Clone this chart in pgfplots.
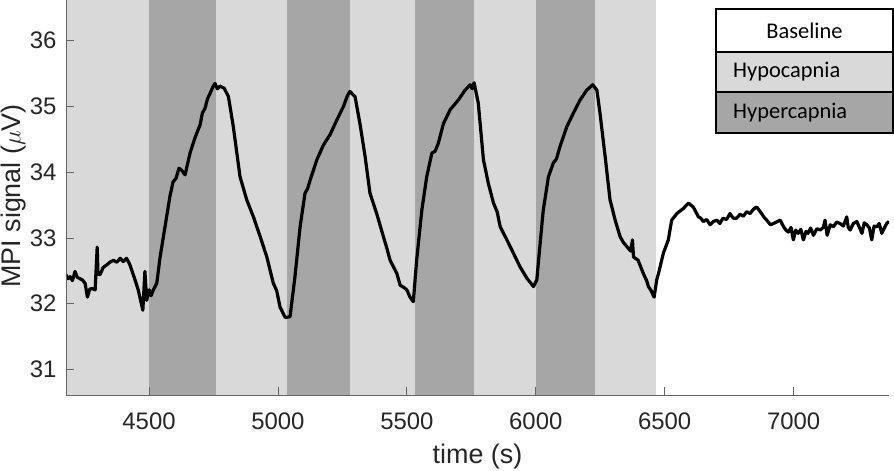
\documentclass[border=0pt]{standalone}
\usepackage{pgfplots}
\pgfplotsset{compat=1.18}
\usepackage{fontspec}
\setmainfont{Liberation Sans}
\newfontfamily\calibri{Carlito}

\definecolor{hypo}{HTML}{D9D9D9}
\definecolor{hyper}{HTML}{A6A6A6}
\definecolor{axgray}{HTML}{646464}

\begin{document}
\begin{tikzpicture}
\path[use as bounding box] (-66bp,-76bp) rectangle (828bp,395bp);
\begin{axis}[
    scale only axis,
    width=823bp, height=395bp,
    xmin=4178, xmax=7370,
    ymin=30.61, ymax=36.62,
    axis x line*=bottom, axis y line*=left,
    axis line style={axgray, line width=0.9bp},
    xtick={4500,5000,...,7000},
    ytick={31,32,...,36},
    tick align=inside,
    major tick length=8bp,
    tick style={axgray, line width=0.8bp},
    scaled x ticks=false,
    /pgf/number format/assume math mode=true,
    /pgf/number format/set thousands separator={},
    tick label style={font=\fontsize{24}{28}\selectfont, text=black!85},
    xticklabel style={yshift=-14bp},
    yticklabel style={xshift=-6bp},
    xlabel={time (s)},
    ylabel={MPI signal ($\mu$V)},
    label style={font=\fontsize{27}{31}\selectfont, text=black!85},
    xlabel style={at={(axis description cs:0.5,-0.1562)}, anchor=center},
    ylabel style={at={(axis description cs:-0.0638,0.504)}, anchor=center, inner sep=0pt},
    axis on top,
    clip=true,
]
% conditions
\addplot[fill=hypo, draw=none] coordinates {(4178,30.5) (6465,30.5) (6465,36.7) (4178,36.7)} -- cycle;
\addplot[fill=hyper, draw=none] coordinates {(4500,30.5) (4760,30.5) (4760,36.7) (4500,36.7)} -- cycle;
\addplot[fill=hyper, draw=none] coordinates {(5035,30.5) (5280,30.5) (5280,36.7) (5035,36.7)} -- cycle;
\addplot[fill=hyper, draw=none] coordinates {(5530,30.5) (5760,30.5) (5760,36.7) (5530,36.7)} -- cycle;
\addplot[fill=hyper, draw=none] coordinates {(6000,30.5) (6230,30.5) (6230,36.7) (6000,36.7)} -- cycle;
% MPI signal
\addplot[black, line width=3.2bp, line join=round] coordinates {
(4178,32.44)(4186,32.38)(4194,32.41)(4203,32.35)(4213,32.49)(4222,32.40)(4232,32.38)
(4242,32.36)(4252,32.31)(4261,32.10)(4270,32.22)
(4278,32.23)(4291,32.21)(4299,32.86)(4302,32.45)(4310,32.44)(4322,32.55)(4336,32.59)
(4348,32.63)(4362,32.66)(4375,32.63)(4388,32.69)(4400,32.64)(4413,32.69)(4426,32.59)(4446,32.36)(4458,32.21)
(4476,31.90)(4484,32.49)(4491,32.05)(4501,32.21)(4508,32.12)(4517,32.21)(4530,32.31)
(4543,32.71)(4562,33.17)(4581,33.63)(4593,33.85)(4605,33.91)(4616,34.06)(4627,34.03)(4640,33.96)
(4659,34.29)(4678,34.52)(4698,34.72)(4707,34.90)(4717,34.97)(4727,35.12)(4737,35.20)(4748,35.30)(4756,35.35)
(4765,35.27)(4775,35.31)(4791,35.28)(4808,35.15)(4827,34.69)(4853,33.93)(4879,33.58)
(4905,33.32)(4931,33.02)(4957,32.71)(4970,32.50)(4982,32.31)(4995,32.20)(5008,31.95)(5028,31.79)
(5047,31.80)(5066,32.41)(5086,33.17)(5105,33.68)(5115,33.75)(5125,33.88)(5151,34.19)
(5176,34.41)(5202,34.57)(5228,34.79)(5254,35.00)(5268,35.15)(5279,35.23)(5299,35.15)
(5318,34.74)(5338,34.24)(5357,33.68)(5383,33.37)(5409,33.02)(5422,32.85)(5435,32.66)
(5461,32.46)(5474,32.28)(5487,32.25)(5500,32.21)(5512,32.10)(5525,32.03)(5538,32.66)(5558,33.42)
(5577,33.93)(5597,34.29)(5610,34.32)(5622,34.44)(5642,34.74)(5668,34.95)(5700,35.10)
(5726,35.25)(5745,35.33)(5753,35.27)(5761,35.36)(5777,35.05)(5797,34.19)(5816,33.83)
(5836,33.53)(5850,33.40)(5862,33.17)(5888,32.97)(5913,32.77)(5939,32.56)(5965,32.39)
(5991,32.26)(6004,32.36)(6017,32.92)(6029,33.42)(6049,33.93)(6068,34.14)(6080,34.20)
(6094,34.39)(6120,34.69)(6146,34.90)(6172,35.10)(6198,35.25)(6221,35.33)
(6237,35.25)(6249,34.90)(6269,34.24)(6288,33.58)(6308,33.27)(6327,33.02)(6340,32.93)
(6353,32.87)(6368,32.80)(6375,32.97)(6379,32.71)(6397,32.66)(6417,32.46)(6430,32.35)(6437,32.26)
(6447,32.20)(6459,32.10)(6469,32.36)(6476,32.46)(6495,32.77)(6514,32.97)(6527,33.27)
(6547,33.37)(6573,33.45)(6592,33.53)(6611,33.47)(6631,33.32)(6640,33.30)(6650,33.25)
(6663,33.28)(6676,33.20)(6689,33.25)(6702,33.27)(6714,33.22)(6726,33.30)(6740,33.28)(6753,33.37)(6766,33.30)(6779,33.30)(6792,33.36)(6805,33.33)
(6818,33.40)(6831,33.37)(6845,33.44)(6857,33.47)(6876,33.37)(6886,33.31)(6896,33.27)(6910,33.20)(6922,33.22)(6948,33.27)
(6961,33.17)(6970,33.12)(6980,33.09)(6990,33.16)(6999,32.97)(7008,33.12)(7018,33.07)(7028,33.13)(7038,32.97)(7048,33.10)(7056,33.07)
(7066,33.15)(7077,33.04)(7090,33.14)(7103,33.12)(7115,33.16)(7122,33.27)(7130,33.04)(7142,33.20)(7154,33.17)(7167,33.24)(7180,33.22)(7193,33.18)
(7206,33.32)(7212,33.16)(7219,33.12)(7232,33.22)(7245,33.25)(7265,33.07)(7274,33.23)(7284,33.20)(7294,33.15)(7303,32.97)(7312,33.18)
(7323,33.17)(7332,33.22)(7342,33.07)(7352,33.15)(7361,33.22)(7370,33.25)
};
\end{axis}
% condition key
\begin{scope}[line width=1.2bp]
\fill[white] (650bp,343bp) rectangle (827bp,386bp);
\fill[hypo]  (650bp,303bp) rectangle (827bp,343bp);
\fill[hyper] (650bp,262bp) rectangle (827bp,303bp);
\draw (650bp,343bp) -- (827bp,343bp);
\draw (650bp,303bp) -- (827bp,303bp);
\draw (650bp,262bp) rectangle (827bp,386bp);
\end{scope}
\begin{scope}[font=\calibri\fontsize{22.5}{26}\selectfont]
\node at (738.5bp,364.5bp) {Baseline};
\node[anchor=west, inner sep=0pt] at (667bp,323bp) {Hypocapnia};
\node[anchor=west, inner sep=0pt] at (667bp,282.5bp) {Hypercapnia};
\end{scope}
\end{tikzpicture}
\end{document}
